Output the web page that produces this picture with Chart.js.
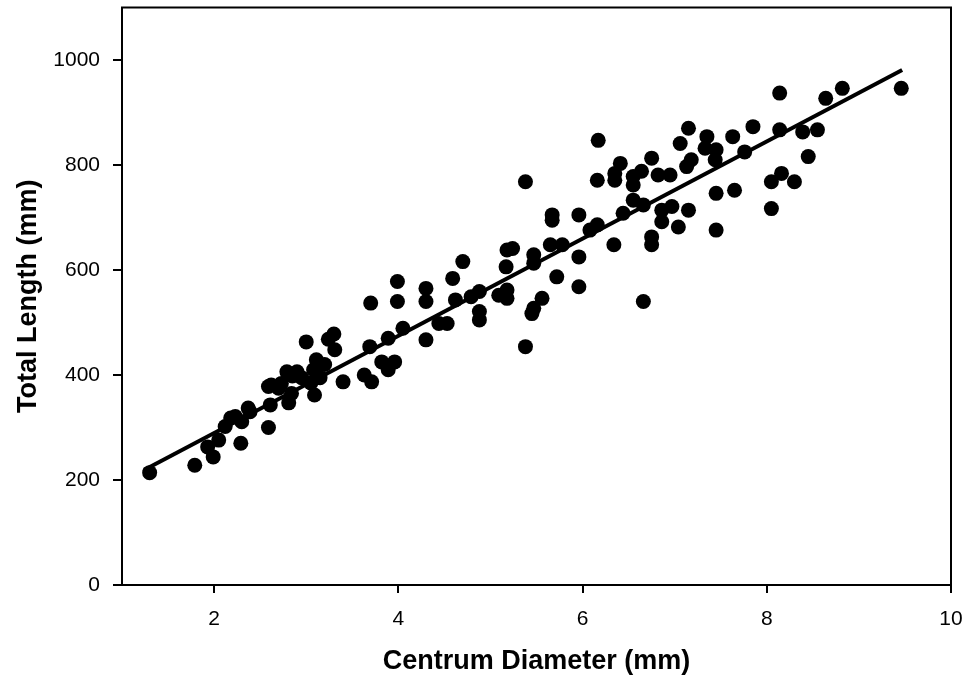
<!DOCTYPE html>
<html>
<head>
<meta charset="utf-8">
<script src="https://cdn.jsdelivr.net/npm/chart.js@4.4.1/dist/chart.umd.min.js"></script>
<style>
  html, body { margin: 0; padding: 0; background: #fff; }
  #wrap { width: 976px; height: 678px; }
</style>
</head>
<body>
<div id="wrap"><canvas id="scatter-chart" width="976" height="678"></canvas></div>
<script>
// centrum diameter (mm) and total length (mm)
var diameter = [1.30, 1.79, 1.93, 1.99, 2.05, 2.12, 2.18, 2.23, 2.29, 2.30, 2.37, 2.39, 2.59, 2.59, 2.61, 2.62, 2.70, 2.73, 2.79, 2.81, 2.84, 2.85, 2.90, 2.95, 3.00, 3.05, 3.08, 3.09, 3.11, 3.15, 3.20, 3.24, 3.30, 3.31,
    3.40, 3.63, 3.69, 3.70, 3.71, 3.82, 3.89, 3.89, 3.96, 3.99, 3.99, 4.05, 4.30, 4.30, 4.30, 4.44, 4.53, 4.59, 4.62, 4.70, 4.79, 4.88, 4.88, 4.88,
    5.09, 5.17, 5.18, 5.18, 5.18, 5.24, 5.38, 5.38, 5.45, 5.47, 5.47, 5.47, 5.56, 5.65, 5.67, 5.67, 5.72, 5.78, 5.96, 5.96, 5.96,
    6.08, 6.16, 6.16, 6.17, 6.34, 6.35, 6.35, 6.41, 6.44, 6.55, 6.55, 6.55, 6.64, 6.66, 6.66, 6.75, 6.75, 6.75, 6.82, 6.86, 6.86, 6.95, 6.97,
    7.04, 7.06, 7.13, 7.15, 7.15, 7.18, 7.33, 7.35, 7.44, 7.45, 7.45, 7.45, 7.63, 7.65, 7.76, 7.85,
    8.05, 8.05, 8.14, 8.14, 8.16, 8.30, 8.39, 8.45, 8.55, 8.64, 8.82, 9.46],
    totalLength = [214, 228, 263, 244, 276, 302, 318, 321, 270, 311, 337, 330, 300, 378, 343, 381, 375, 384, 406, 347, 365, 398, 406, 395, 463, 385, 410, 362, 429, 395, 420, 468, 478, 448,
    387, 400, 454, 537, 387, 425, 410, 470, 425, 540, 578, 489, 467, 540, 565, 498, 498, 584, 543, 616, 549, 521, 505, 559,
    552, 606, 546, 562, 638, 641, 454, 768, 517, 527, 613, 629, 546, 648, 695, 705, 587, 648, 568, 625, 705,
    676, 686, 771, 847, 648, 771, 784, 803, 708, 733, 762, 778, 788, 540, 724, 648, 663, 813, 781, 692, 714, 781, 721,
    682, 841, 797, 714, 870, 810, 832, 854, 810, 676, 746, 829, 854, 752, 825, 873,
    717, 768, 867, 937, 784, 768, 863, 816, 867, 927, 946, 946],
    // fitted line end points as drawn in the figure
    fitX = [1.24, 9.47],
    fitY = [219, 981],
    xTicks = [2, 4, 6, 8, 10],
    yTicks = [0, 200, 400, 600, 800, 1000];

var black = "#000000",
    fontFamily = "'Liberation Sans', Arial, sans-serif";

var points = diameter.map(function (d, i) { return { x: d, y: totalLength[i] }; }),
    fitLine = fitX.map(function (d, i) { return { x: d, y: fitY[i] }; });

var frameBox = {
    id: "frameBox",
    afterDraw: function (chart) {
        var a = chart.chartArea, c = chart.ctx;
        c.save();
        c.strokeStyle = black;
        c.lineWidth = 2;
        c.strokeRect(a.left, a.top, a.right - a.left, a.bottom - a.top);
        c.restore();
    }
};

var ctx = document.getElementById("scatter-chart").getContext("2d");
new Chart(ctx, {
    type: "scatter",
    data: {
        datasets: [{
            label: "Fit",
            type: "line",
            data: fitLine,
            borderColor: black,
            borderWidth: 4,
            pointRadius: 0,
            fill: false,
            order: 0
        }, {
            label: "Specimens",
            data: points,
            backgroundColor: black,
            borderColor: black,
            pointRadius: 7.5,
            borderWidth: 0,
            order: 1
        }]
    },
    plugins: [frameBox],
    options: {
        responsive: false,
        animation: false,
        layout: { padding: { top: 6, right: 25, left: 0, bottom: 0 } },
        plugins: {
            legend: { display: false },
            tooltip: { enabled: false }
        },
        scales: {
            x: {
                type: "linear",
                min: 1,
                max: 10,
                afterBuildTicks: function (axis) {
                    axis.ticks = xTicks.map(function (v) { return { value: v }; });
                },
                afterFit: function (axis) {
                    axis.height = 93;
                    axis.paddingLeft = 0;
                    axis.paddingRight = 0;
                },
                grid: { display: true, drawOnChartArea: false, drawTicks: true, tickLength: 8, color: black, lineWidth: 2 },
                border: { display: true, color: black, width: 2 },
                ticks: {
                    color: black,
                    padding: 14,
                    font: { family: fontFamily, size: 21 },
                    callback: function (value) { return String(value); }
                },
                title: {
                    display: true,
                    text: "Centrum Diameter (mm)",
                    color: black,
                    padding: { top: 4, bottom: 0 },
                    font: { family: fontFamily, size: 27, weight: "bold" }
                }
            },
            y: {
                type: "linear",
                min: 0,
                max: 1100,
                afterBuildTicks: function (axis) {
                    axis.ticks = yTicks.map(function (v) { return { value: v }; });
                },
                afterFit: function (axis) {
                    axis.width = 122;
                    axis.paddingTop = 0;
                    axis.paddingBottom = 0;
                },
                grid: { display: true, drawOnChartArea: false, drawTicks: true, tickLength: 9, color: black, lineWidth: 2 },
                border: { display: true, color: black, width: 2 },
                ticks: {
                    color: black,
                    padding: 13,
                    font: { family: fontFamily, size: 21 },
                    callback: function (value) { return String(value); }
                },
                title: {
                    display: true,
                    text: "Total Length (mm)",
                    color: black,
                    padding: { top: 12, bottom: 0 },
                    font: { family: fontFamily, size: 27, weight: "bold" }
                }
            }
        }
    }
});
</script>
</body>
</html>
